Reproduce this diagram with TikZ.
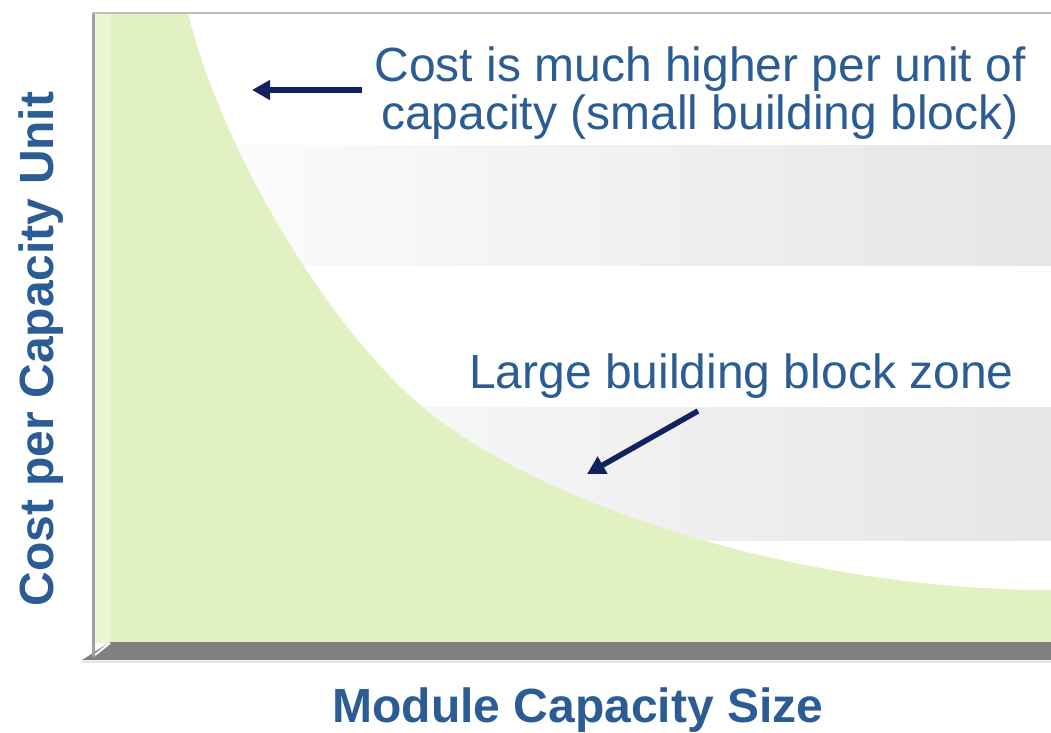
\documentclass[tikz,border=0pt]{standalone}
\usepackage{fontspec}
\setmainfont{Liberation Sans}
\usepackage{color}
\usepackage{tikz}
\usetikzlibrary{arrows.meta}
\definecolor{textblue}{RGB}{43,92,148}
\definecolor{navy}{RGB}{18,33,96}
\definecolor{leafgreen}{RGB}{226,241,193}
\definecolor{palegreen}{RGB}{234,246,212}

\begin{document}
\begin{tikzpicture}[x=1pt, y=-1pt,
        note/.style={text=textblue, inner sep=0pt, font=\fontsize{48}{48}\selectfont},
        axislabel/.style={note, font=\fontsize{48}{48}\selectfont\bfseries},
        band/.style={left color=white, right color=gray!20},
        pointer/.style={draw=navy, line width=5.5pt, -{Triangle[length=18pt, width=19pt]}}]
                \useasboundingbox (0,0) rectangle (1051,732);
                \shade[band] (95,145) rectangle (1051,265);
                \shade[band] (95,407) rectangle (1051,540);
                \fill[leafgreen] (95,643) -- (95,13) -- (188,13) .. controls (223,155) and (332,335) .. (430,413) .. controls (546,506) and (800,590) .. (1051,590) -- (1051,643) -- cycle;
                \fill[palegreen] (95,13) rectangle (110,643);
                \fill[gray] (82,660) -- (110,642) -- (1051,642) -- (1051,660) -- cycle;
                \draw[gray!20, line width=1.5pt] (82,662) -- (1051,662);
                \draw[white, line width=2pt] (95,655) -- (110,643);
                \draw[gray!75, line width=3pt] (93,13) -- (93,657);
                \draw[gray!50, line width=2pt] (92,13) -- (1051,13);
                \node[note, align=center, anchor=north] (high) at (700,47) {Cost is much higher per unit of\\capacity (small building block)};
                \node[note, anchor=base west] (large) at (469,388) {Large building block zone};
                \node[axislabel, rotate=90, anchor=base] (ylab) at (53,349) {Cost per Capacity Unit};
                \node[axislabel, anchor=base] (xlab) at (578,722) {Module Capacity Size};
                \coordinate (p1) at (362,90);
                \coordinate (q1) at (252,90);
                \coordinate (p2) at (698,411);
                \coordinate (q2) at (587,474);
                \draw
                (p1) edge[pointer] (q1)
                (p2) edge[pointer] (q2);
            \end{tikzpicture}
\end{document}
